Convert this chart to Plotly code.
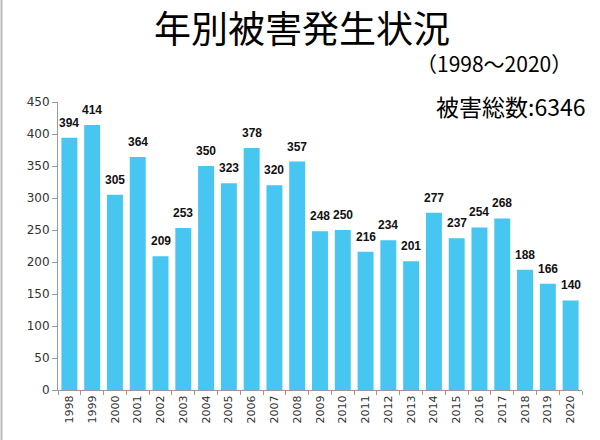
import plotly.graph_objects as go

years = [str(y) for y in range(1998, 2021)]
counts = [394, 414, 305, 364, 209, 253, 350, 323, 378, 320, 357, 248, 250,
          216, 234, 201, 277, 237, 254, 268, 188, 166, 140]
y_ticks = [0, 50, 100, 150, 200, 250, 300, 350, 400, 450]

title_text = "年別被害発生状況"
subtitle_text = "（1998～2020）"
total_text = "被害総数:6346"

fig = go.Figure(go.Bar(
    x=years, y=counts,
    marker=dict(color="#47C6F2", line=dict(width=0)),
    width=0.7,
    cliponaxis=False,
    hoverinfo="x+y",
))

jp = "Noto Sans CJK JP"
annotations = [
    dict(text=title_text, xref="paper", yref="paper",
         x=(302 - 58) / 524, y=1 + (102 - 27) / 288,
         xanchor="center", yanchor="middle", showarrow=False,
         font=dict(family=jp, size=37, color="black")),
    dict(text=subtitle_text, xref="paper", yref="paper",
         x=(494 - 58) / 524, y=1 + (102 - 63) / 288,
         xanchor="center", yanchor="middle", showarrow=False,
         font=dict(family=jp, size=21, color="black")),
    dict(text=total_text, xref="paper", yref="paper",
         x=(510 - 58) / 524, y=1 + (102 - 106) / 288,
         xanchor="center", yanchor="middle", showarrow=False,
         font=dict(family=jp, size=23, color="black")),
]
for i, c in enumerate(counts):
    annotations.append(dict(
        text=str(c), x=i, y=c, xref="x", yref="y",
        xanchor="center", yanchor="bottom", yshift=6, showarrow=False,
        font=dict(family="Liberation Sans", size=12, color="#111111", weight="bold"),
    ))

fig.update_layout(
    width=600, height=440,
    margin=dict(l=58, r=18, t=102, b=50, autoexpand=False),
    paper_bgcolor="white", plot_bgcolor="white",
    showlegend=False,
    bargap=0.3,
    xaxis=dict(
        type="category", tickangle=-90, tickson="boundaries",
        range=[-0.5, len(years) - 0.5],
        ticks="outside", ticklen=4, tickcolor="#999999",
        showline=True, linecolor="#999999", linewidth=1,
        showgrid=False, automargin=False,
        tickfont=dict(family="DejaVu Sans", size=11, color="#333333"),
    ),
    yaxis=dict(
        range=[0, 450], tickvals=y_ticks,
        ticks="outside", ticklen=5, tickcolor="#999999",
        showline=True, linecolor="#999999", linewidth=1,
        showgrid=False, zeroline=False, automargin=False,
        tickfont=dict(family="DejaVu Sans", size=12, color="#333333"),
    ),
    annotations=annotations,
    shapes=[
        dict(type="line", xref="paper", yref="paper",
             x0=(1.5 - 58) / 524, x1=(1.5 - 58) / 524,
             y0=-50 / 288, y1=1 + 102 / 288,
             line=dict(color="#BBBBBB", width=2)),
    ],
)

fig.write_html("out.html", config={"displayModeBar": False},
               post_script="document.body.style.margin='0px';document.body.style.overflow='hidden';")
